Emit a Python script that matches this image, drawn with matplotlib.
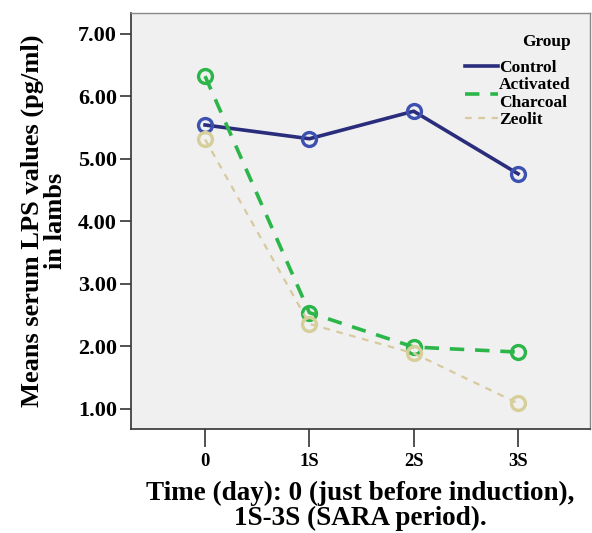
import matplotlib
matplotlib.use("Agg")
import matplotlib.pyplot as plt
from matplotlib.lines import Line2D

# values
time_labels = ["0", "1S", "2S", "3S"]
control = [5.54, 5.32, 5.76, 4.76]
charcoal = [6.32, 2.54, 1.99, 1.91]
zeolit = [5.31, 2.36, 1.89, 1.09]
group_names = ["Control", "Activated\nCharcoal", "Zeolit"]
y_ticks = [1, 2, 3, 4, 5, 6, 7]

plt.rcParams['font.family'] = ['Liberation Serif', 'DejaVu Serif']
plt.rcParams['font.weight'] = 'bold'

fig = plt.figure(figsize=(5.92, 5.33), dpi=100)
ax = fig.add_axes([131/592, 1-429/533, (590-131)/592, (429-13)/533])
ax.set_facecolor('#f0f0f0')

styles = [
    dict(color='#2a2c7c', lw=2.6, ls='-', mec='#3d52b0'),
    dict(color='#2cb64a', lw=2.6, ls=(0, (4, 3)), mec='#2cb64a'),
    dict(color='#d8c99e', lw=1.6, ls=(0, (3, 3)), mec='#d6cf9a'),
]

x = range(len(time_labels))
handles = []
for values, st in zip([control, charcoal, zeolit], styles):
    ax.plot(x, values, color=st['color'], lw=st['lw'], ls=st['ls'], marker='o', ms=10,
            mfc='none', mec=st['mec'], mew=2.4)
    handles.append(Line2D([], [], color=st['color'], lw=st['lw'], ls=st['ls']))

ax.set_xlim(-0.71, 3.69)
ax.set_ylim(0.68, 7.33)
ax.set_xticks(list(x))
ax.set_xticklabels(time_labels, fontsize=13.5, fontweight='bold')
ax.set_yticks(y_ticks)
ax.set_yticklabels(["%.2f" % v for v in y_ticks], fontsize=16, fontweight='bold')
ax.tick_params(axis='both', direction='out', length=8, width=1.2, color='#333333', pad=2)
ax.tick_params(axis='x', length=13, pad=4)

for side in ['left', 'bottom']:
    ax.spines[side].set_color('#333333')
    ax.spines[side].set_linewidth(1.2)
for side in ['top', 'right']:
    ax.spines[side].set_color('#888888')
    ax.spines[side].set_linewidth(1.0)

ax.set_ylabel("Means serum LPS values (pg/ml)\nin lambs", fontsize=19, fontweight='bold',
              linespacing=1.0)
ax.yaxis.set_label_coords(-0.14, 0.5)
ax.set_xlabel("Time (day): 0 (just before induction),\n1S-3S (SARA period).", fontsize=19.5,
              fontweight='bold', linespacing=1.0)
ax.xaxis.set_label_coords(0.5, -0.125)

leg = ax.legend(handles, group_names, loc='upper right', bbox_to_anchor=(0.985, 0.978),
                frameon=False, title='Group', prop={'size': 12.5, 'weight': 'bold'},
                handlelength=1.9, handletextpad=0.05, labelspacing=0.05, borderaxespad=0.3)
leg.get_title().set_fontsize(12.5)
leg.get_title().set_fontweight('bold')
leg._legend_box.align = 'right'
leg._legend_box.sep = 7

fig.savefig('out.png', dpi=100)
